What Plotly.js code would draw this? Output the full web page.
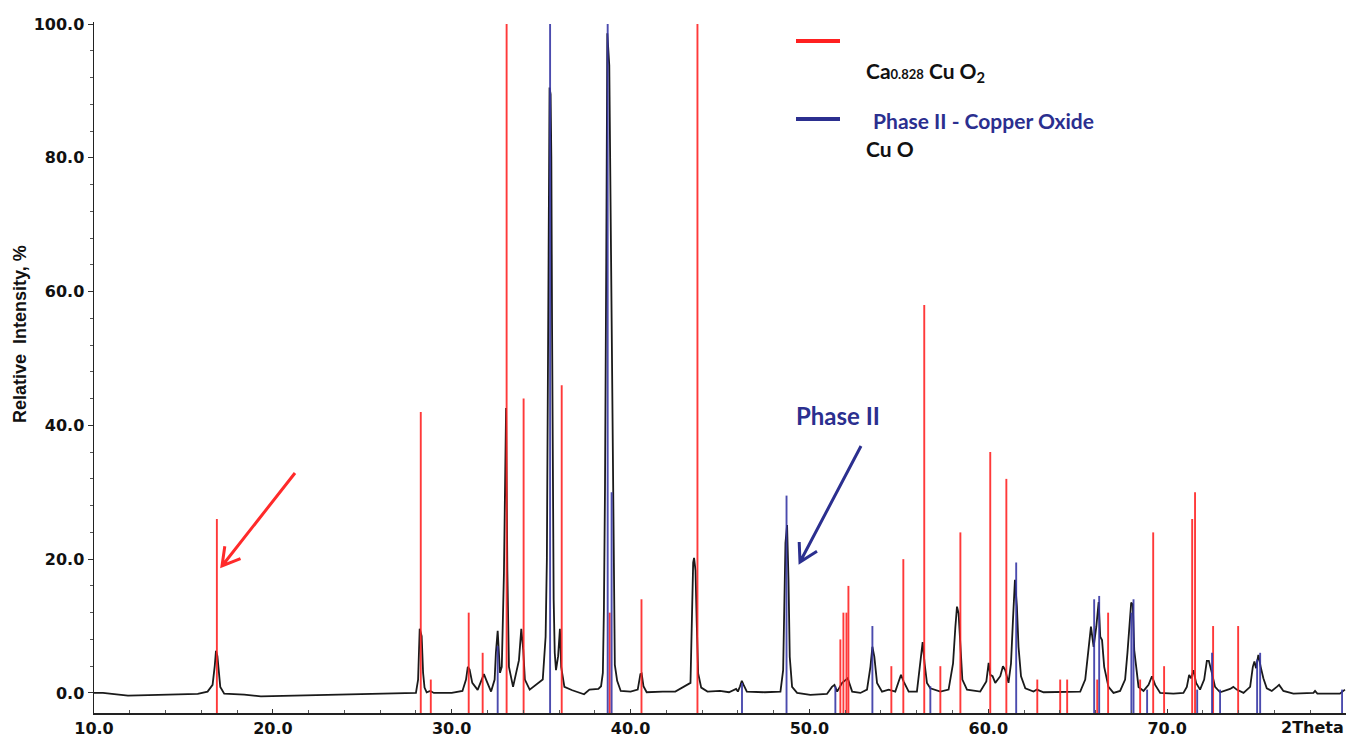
<!DOCTYPE html>
<html>
<head>
<meta charset="utf-8">
<script src="https://cdn.plot.ly/plotly-3.0.1.min.js"></script>
<style>html,body{margin:0;padding:0;background:#fff;}#chart{width:1348px;height:735px;}</style>
</head>
<body>
<div id="chart"></div>
<script>
// Measured diffraction pattern (2Theta, relative intensity %)
const twoTheta = [10.00,10.50,11.00,11.90,13.60,15.80,16.35,16.63,16.75,16.82,16.90,17.00,17.06,17.28,18.40,19.33,21.00,22.50,24.00,25.50,27.00,28.00,28.12,28.16,28.21,28.32,28.40,28.48,28.60,28.80,29.00,30.00,30.60,30.80,30.90,31.00,31.15,31.45,31.65,31.80,31.95,32.20,32.40,32.47,32.57,32.70,32.80,32.92,33.00,33.04,33.11,33.20,33.43,33.76,33.89,34.00,34.09,34.36,35.09,35.25,35.32,35.37,35.42,35.47,35.53,35.57,35.61,35.65,35.70,35.76,35.83,35.95,36.02,36.05,36.12,36.30,36.74,37.12,37.40,37.70,38.20,38.35,38.45,38.51,38.57,38.64,38.70,38.81,38.88,38.94,39.00,39.05,39.12,39.25,39.45,40.00,40.40,40.55,40.62,40.72,40.90,41.80,42.50,43.35,43.45,43.50,43.55,43.63,43.70,43.78,43.95,44.30,45.00,45.50,45.90,46.00,46.12,46.22,46.32,46.50,47.50,48.38,48.53,48.60,48.66,48.75,48.83,48.90,49.03,49.31,50.05,50.98,51.26,51.40,51.55,51.83,52.14,52.39,52.85,53.22,53.41,53.52,53.63,53.78,54.06,54.43,54.80,54.99,55.12,55.27,55.55,56.01,56.20,56.33,56.44,56.57,56.76,57.32,57.78,58.03,58.16,58.25,58.34,58.44,58.55,58.81,59.55,59.89,60.02,60.11,60.24,60.39,60.67,60.82,60.95,61.13,61.27,61.38,61.49,61.60,61.69,61.83,62.07,62.53,62.72,63.09,65.14,65.42,65.61,65.74,65.89,66.04,66.17,66.26,66.36,66.48,66.72,67.00,67.37,67.65,67.78,67.89,67.99,68.08,68.16,68.27,68.40,68.68,68.96,69.15,69.33,69.61,70.35,70.91,71.10,71.23,71.34,71.47,71.62,71.84,72.07,72.22,72.33,72.50,72.68,72.96,73.52,73.70,73.89,74.27,74.64,74.79,74.88,74.97,75.10,75.23,75.38,75.57,75.85,76.13,76.26,76.50,77.06,78.18,78.27,78.40,79.66,79.94];
const intensity = [0.0,0.0,-0.15,-0.4,-0.3,-0.15,0.2,1.2,4.0,6.3,5.5,2.5,0.9,-0.1,-0.25,-0.5,-0.4,-0.35,-0.2,-0.2,-0.05,0.0,2.0,5.0,9.6,8.5,3.0,0.8,0.1,0.3,0.0,0.0,0.3,2.0,3.9,3.5,1.5,0.45,1.8,2.8,1.8,0.2,2.0,6.0,9.3,3.0,3.9,17.9,34.4,42.6,18.4,3.9,0.9,4.9,9.6,6.4,2.0,0.5,2.0,8.4,20.0,39.0,62.0,90.5,89.5,80.0,55.0,30.0,14.0,6.0,3.4,5.5,8.5,9.6,3.9,0.9,0.4,0.0,-0.2,0.5,0.6,1.0,3.0,12.5,30.5,64.4,98.6,93.8,72.6,51.3,33.3,20.8,4.2,1.8,0.3,0.2,0.5,2.8,2.9,1.0,0.1,0.2,0.2,1.5,11.8,19.5,20.2,18.3,10.4,2.9,0.8,0.2,0.3,0.1,0.6,0.2,1.0,1.8,1.2,0.2,0.1,0.2,3.4,12.9,22.4,25.1,16.9,5.4,0.9,0.0,-0.3,-0.15,0.9,1.2,0.2,1.5,2.2,0.2,0.0,0.5,3.9,6.9,5.4,1.5,0.2,0.5,0.2,1.7,2.7,1.7,0.2,0.2,4.4,7.6,4.4,1.5,0.7,0.2,0.5,4.4,9.9,12.9,11.9,6.4,2.0,0.5,0.2,1.7,4.5,2.7,2.5,1.5,2.5,4.0,3.4,1.5,4.4,10.9,16.9,12.9,6.9,2.5,0.7,0.2,0.5,0.1,0.2,2.0,6.9,9.9,6.9,9.9,13.6,8.4,7.9,3.9,0.9,0.0,0.3,2.0,6.0,9.9,13.5,13.2,6.4,3.9,0.9,0.3,1.2,2.5,1.2,0.0,-0.1,0.0,0.9,2.7,2.2,3.4,1.5,0.5,2.0,4.8,4.8,3.0,0.9,0.1,0.6,0.9,0.5,0.0,0.9,3.9,4.7,3.7,5.7,3.9,2.2,0.7,0.3,0.9,1.2,0.3,-0.1,0.0,0.3,-0.1,-0.1,0.5];

// Reference pattern: Ca0.828 Cu O2 (red sticks)
const caCuO2Pos = [16.87,28.27,28.83,30.95,31.73,33.07,34.02,36.15,38.83,40.61,43.74,51.73,51.90,52.07,52.18,54.58,55.25,56.42,57.32,58.44,60.11,61.01,62.74,64.02,64.41,66.09,66.70,68.49,69.22,69.83,71.40,71.56,72.57,73.97];
const caCuO2Int = [26,42,2,12,6,100,44,46,12,14,100,8,12,12,16,4,20,58,4,24,36,32,2,2,2,2,12,2,24,4,26,30,10,10];

// Phase II - Copper Oxide, Cu O (blue sticks)
const cuOPos = [32.57,35.50,38.72,38.94,46.23,48.72,51.45,53.52,56.76,61.56,65.92,66.20,68.00,68.12,68.88,71.68,72.51,72.96,75.03,75.20,79.78];
const cuOInt = [7,100,100,30,1.5,29.5,1,10,1,19.5,14,14.5,12,14,0.5,0.5,6,0.5,5,6,0.5];

const xTickVals = [10,20,30,40,50,60,70];
const xTickText = ['10.0','20.0','30.0','40.0','50.0','60.0','70.0'];
const yTickVals = [0,20,40,60,80,100];
const yTickText = ['0.0','20.0','40.0','60.0','80.0','100.0'];

const Y_MIN = -3, Y_MAX = 100.3;

function sticks(pos, val) {
  const x = [], y = [];
  pos.forEach((p, i) => { x.push(p, p, null); y.push(Y_MIN, val[i], null); });
  return {x, y};
}
const red = sticks(caCuO2Pos, caCuO2Int);
const blue = sticks(cuOPos, cuOInt);

const traces = [
  {x: twoTheta, y: intensity, type: 'scatter', mode: 'lines', line: {color: '#1a1a1a', width: 1.8}, hoverinfo: 'x+y'},
  {x: red.x, y: red.y, type: 'scatter', mode: 'lines', line: {color: 'rgba(255,35,35,0.9)', width: 1.9}, connectgaps: false},
  {x: blue.x, y: blue.y, type: 'scatter', mode: 'lines', line: {color: 'rgba(55,55,165,0.9)', width: 1.9}, connectgaps: false}
];

// pixel -> paper helpers for decorations
const ML = 94, MR = 2, MT = 22, MB = 22, W = 1348, H = 735;
const PW = W - ML - MR, PH = H - MT - MB;
const px = v => (v - ML) / PW;
const py = v => (H - MB - v) / PH;

function arrowPath(tip, wing1, wing2, tail) {
  return `M ${px(tail[0])} ${py(tail[1])} L ${px(tip[0])} ${py(tip[1])} M ${px(wing1[0])} ${py(wing1[1])} L ${px(tip[0])} ${py(tip[1])} L ${px(wing2[0])} ${py(wing2[1])}`;
}

const navy = '#2b2f8f';
const legFont = {family: 'Lato, "Open Sans", sans-serif', size: 21, color: '#111', weight: 'bold'};

const layout = {
  width: W, height: H,
  margin: {l: ML, r: MR, t: MT, b: MB},
  paper_bgcolor: '#fff', plot_bgcolor: '#fff',
  showlegend: false,
  xaxis: {
    range: [10, 80], showgrid: false, zeroline: false,
    showline: true, linecolor: '#222', linewidth: 1.5,
    tickmode: 'array', tickvals: xTickVals, ticktext: xTickText,
    ticks: 'inside', ticklen: 4, tickcolor: '#333',
    minor: {tickmode: 'linear', tick0: 10, dtick: 2, ticks: 'inside', ticklen: 3, tickcolor: '#555'},
    tickfont: {family: '"DejaVu Sans", sans-serif', size: 16, color: '#111', weight: 'bold'}
  },
  yaxis: {
    range: [Y_MIN, Y_MAX], showgrid: false, zeroline: false,
    showline: true, linecolor: '#222', linewidth: 1.5,
    tickmode: 'array', tickvals: yTickVals, ticktext: yTickText,
    ticks: 'outside', ticklen: 5, tickcolor: '#333',
    minor: {tickmode: 'linear', tick0: 0, dtick: 4, ticks: 'outside', ticklen: 3, tickcolor: '#555'},
    tickfont: {family: '"DejaVu Sans", sans-serif', size: 16, color: '#111', weight: 'bold'}
  },
  shapes: [
    {type: 'line', xref: 'paper', yref: 'paper', x0: px(796), x1: px(840), y0: py(41), y1: py(41), line: {color: '#ff2020', width: 4}},
    {type: 'line', xref: 'paper', yref: 'paper', x0: px(796), x1: px(840), y0: py(119), y1: py(119), line: {color: navy, width: 4}},
    {type: 'path', xref: 'paper', yref: 'paper', path: arrowPath([222,566],[240.5,558.6],[224.8,546.2],[295,473]), line: {color: '#ff2a2a', width: 3}},
    {type: 'path', xref: 'paper', yref: 'paper', path: arrowPath([800,562],[817,551.3],[799.2,542],[861,446]), line: {color: navy, width: 3}}
  ],
  annotations: [
    {xref: 'paper', yref: 'paper', x: px(20), xanchor: 'center', y: py(334), yanchor: 'middle', text: 'Relative  Intensity, %', textangle: -90, showarrow: false,
     font: {family: '"Liberation Sans", Arial, sans-serif', size: 18, color: '#111', weight: 'bold'}},
    {xref: 'paper', yref: 'paper', x: 1, xanchor: 'right', y: py(716), yanchor: 'top', text: '2Theta', showarrow: false,
     font: {family: '"DejaVu Sans", sans-serif', size: 16, color: '#111', weight: 'bold'}},
    {xref: 'paper', yref: 'paper', x: px(864), xanchor: 'left', y: py(72), yanchor: 'middle', text: 'Ca<span style="font-size:13px">0.828</span> Cu O<sub>2</sub>', showarrow: false, font: legFont},
    {xref: 'paper', yref: 'paper', x: px(866), xanchor: 'left', y: py(120), yanchor: 'middle', text: ' Phase II - Copper Oxide', showarrow: false, font: Object.assign({}, legFont, {color: navy})},
    {xref: 'paper', yref: 'paper', x: px(864), xanchor: 'left', y: py(148), yanchor: 'middle', text: 'Cu O', showarrow: false, font: legFont},
    {xref: 'paper', yref: 'paper', x: px(794), xanchor: 'left', y: py(415), yanchor: 'middle', text: 'Phase II', showarrow: false,
     font: {family: 'Lato, "Open Sans", sans-serif', size: 24, color: navy, weight: 'bold'}}
  ]
};

Plotly.newPlot('chart', traces, layout, {displayModeBar: false, staticPlot: true});
</script>
</body>
</html>
